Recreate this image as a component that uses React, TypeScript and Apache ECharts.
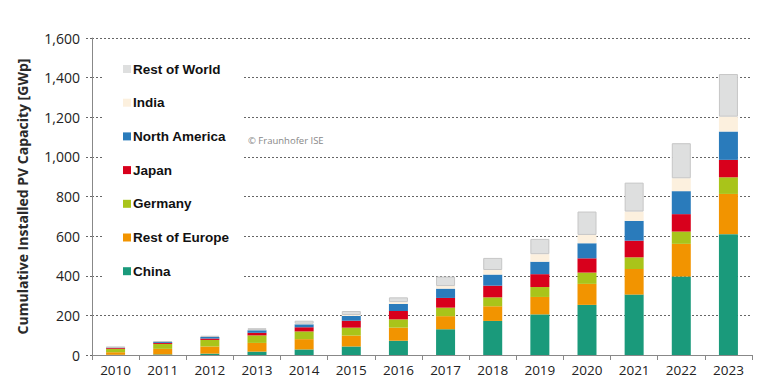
import React, { useEffect, useRef } from "react";
import * as echarts from "echarts";

const years = ["2010", "2011", "2012", "2013", "2014", "2015", "2016", "2017", "2018", "2019", "2020", "2021", "2022", "2023"];
const china = [1, 3, 7, 17, 28, 43, 72, 130, 172, 205, 253, 305, 396, 610];
const restOfEurope = [13, 28, 36, 44, 52, 55, 66, 66, 74, 88, 106, 129, 165, 203];
const germany = [17, 25, 33, 38, 39, 40, 42, 43, 45, 50, 57, 59, 62, 84];
const japan = [4, 5, 7, 13, 21, 35, 42, 49, 59, 65, 72, 84, 88, 88];
const northAmerica = [3, 5, 8, 13, 15, 24, 36, 47, 56, 63, 76, 100, 116, 143];
const india = [0.1, 0.5, 1, 2, 3, 5, 9, 13, 23, 38, 42, 47, 65, 75];
const restOfWorld = [3, 3, 4, 8, 15, 20, 24, 48, 61, 77, 118, 146, 177, 215];
const yTicks = [0, 200, 400, 600, 800, 1000, 1200, 1400, 1600];

const seriesDefs = [
  { name: "China", data: china, color: "#1a9a7b" },
  { name: "Rest of Europe", data: restOfEurope, color: "#f29400" },
  { name: "Germany", data: germany, color: "#a9c41a" },
  { name: "Japan", data: japan, color: "#d8001c" },
  { name: "North America", data: northAmerica, color: "#2a7bbb" },
  { name: "India", data: india, color: "#fcf0de" },
  { name: "Rest of World", data: restOfWorld, color: "#dedfdf" },
];

export default function App() {
  const ref = useRef<HTMLDivElement>(null);
  useEffect(() => {
    if (!ref.current) return;
    const chart = echarts.init(ref.current, null, { renderer: "svg" });
    chart.setOption({
      animation: false,
      backgroundColor: "#fff",
      grid: { left: 92, right: 16, top: 38, bottom: 37 },
      legend: {
        orient: "vertical",
        left: 103,
        top: 54,
        padding: [8, 14, 8, 20],
        backgroundColor: "#fff",
        itemWidth: 8,
        itemHeight: 8,
        itemGap: 19.7,
        icon: "rect",
        selectedMode: false,
        itemStyle: { borderWidth: 0 },
        data: ["Rest of World", "India", "North America", "Japan", "Germany", "Rest of Europe", "China"],
        textStyle: {
          fontFamily: "Liberation Sans, Arial, sans-serif",
          fontWeight: "bold",
          fontSize: 13.5,
          lineHeight: 14,
          color: "#111",
          padding: [0, 0, 0, -3],
        },
      },
      graphic: [
        {
          type: "text",
          left: 248,
          top: 135,
          z: 100,
          style: {
            text: "© Fraunhofer ISE",
            fontFamily: "Open Sans, sans-serif",
            fontSize: 9.5,
            fill: "#888",
          },
        },
      ],
      xAxis: {
        type: "category",
        data: years,
        axisLine: { lineStyle: { color: "#888", width: 1 } },
        axisTick: { show: true, length: 5, lineStyle: { color: "#888" } },
        axisLabel: {
          fontFamily: "Open Sans, sans-serif",
          fontSize: 13.5,
          color: "#222",
          margin: 8,
        },
      },
      yAxis: {
        type: "value",
        min: yTicks[0],
        max: yTicks[yTicks.length - 1],
        interval: 200,
        name: "Cumulative Installed PV Capacity [GWp]",
        nameLocation: "middle",
        nameRotate: 90,
        nameGap: 63,
        nameTextStyle: {
          fontFamily: "Open Sans, sans-serif",
          fontSize: 14,
          fontWeight: 700,
          color: "#2a2a2a",
        },
        axisLine: { show: true, lineStyle: { color: "#888", width: 1 } },
        axisTick: { show: true, length: 7, lineStyle: { color: "#666", type: [2, 2] } },
        axisLabel: {
          fontFamily: "Open Sans, sans-serif",
          fontSize: 14,
          color: "#222",
          margin: 12,
          formatter: (v: number) => v.toLocaleString("en-US"),
        },
        splitLine: { show: true, lineStyle: { color: "#666", type: [2, 2], width: 1 } },
      },
      series: seriesDefs.map((s) => ({
        name: s.name,
        type: "bar",
        stack: "total",
        barWidth: 19,
        data: s.data,
        itemStyle:
          s.name === "Rest of World"
            ? { color: s.color, borderColor: "#c6c6c6", borderWidth: 1 }
            : { color: s.color },
      })),
    });
    return () => chart.dispose();
  }, []);
  return <div ref={ref} style={{ position: "fixed", left: 0, top: 0, width: 768, height: 392 }} />;
}
